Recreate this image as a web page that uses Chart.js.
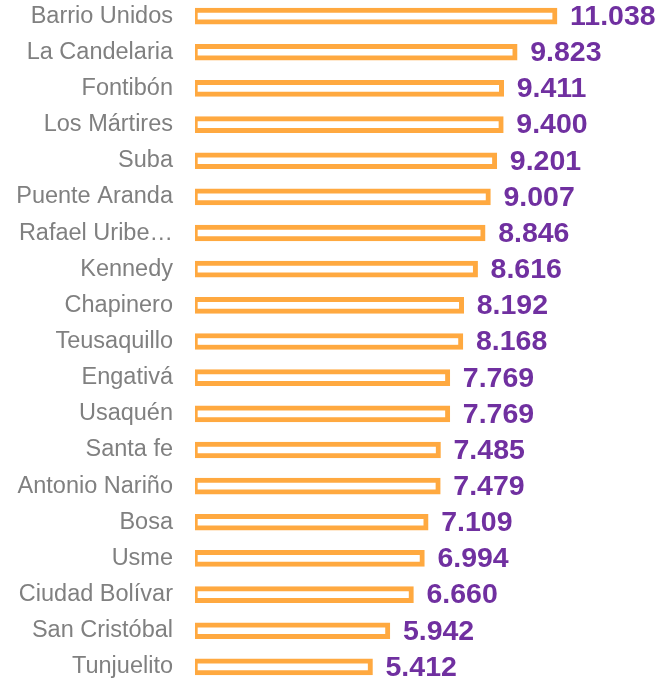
<!DOCTYPE html>
<html>
<head>
<meta charset="utf-8">
<script src="https://cdn.jsdelivr.net/npm/chart.js@4/dist/chart.umd.min.js"></script>
<style>
  html, body { margin: 0; padding: 0; background: #fff; overflow: hidden; }
  #chart { position: absolute; left: 0; top: -2px; }
</style>
</head>
<body>
<canvas id="chart" width="660" height="687"></canvas>
<script>
// Localidades y valores
const localidades = [
    'Barrio Unidos', 'La Candelaria', 'Fontibón', 'Los Mártires', 'Suba',
    'Puente Aranda', 'Rafael Uribe…', 'Kennedy', 'Chapinero', 'Teusaquillo',
    'Engativá', 'Usaquén', 'Santa fe', 'Antonio Nariño', 'Bosa',
    'Usme', 'Ciudad Bolívar', 'San Cristóbal', 'Tunjuelito'
];
const valores = [
    11038, 9823, 9411, 9400, 9201,
    9007, 8846, 8616, 8192, 8168,
    7769, 7769, 7485, 7479, 7109,
    6994, 6660, 5942, 5412
];

const naranja = '#FFA940';
const morado = '#7030A0';
const gris = '#808080';

// Etiquetas de valor a la derecha de cada barra
const valueLabels = {
    id: 'valueLabels',
    afterDatasetsDraw(chart) {
        const ctx = chart.ctx;
        const meta = chart.getDatasetMeta(0);
        ctx.save();
        ctx.font = 'bold 28.5px "Liberation Sans", Arial, sans-serif';
        ctx.fillStyle = morado;
        ctx.textAlign = 'left';
        ctx.textBaseline = 'middle';
        meta.data.forEach((bar, i) => {
            ctx.fillText(valores[i].toLocaleString('de-DE'), bar.x + 13, bar.y + 1);
        });
        ctx.restore();
    }
};

const ctx = document.getElementById('chart').getContext('2d');
new Chart(ctx, {
    type: 'bar',
    data: {
        labels: localidades,
        datasets: [{
            data: valores,
            backgroundColor: '#ffffff',
            borderColor: naranja,
            borderWidth: { top: 5, right: 5, bottom: 5, left: 3 },
            borderSkipped: false,
            barThickness: 16
        }]
    },
    options: {
        indexAxis: 'y',
        responsive: false,
        animation: false,
        layout: { autoPadding: false, padding: { left: 0, right: 71.4, top: 0, bottom: 0 } },
        scales: {
            x: {
                display: false,
                min: 0,
                max: 12000
            },
            y: {
                grid: { display: false, drawTicks: false },
                border: { display: false },
                ticks: {
                    color: gris,
                    padding: 22,
                    font: { family: '"Liberation Sans", Arial, sans-serif', size: 23.5 }
                },
                afterFit(scale) {
                    scale.width = 195;
                    scale.paddingTop = 0;
                    scale.paddingBottom = 0;
                }
            }
        },
        plugins: {
            legend: { display: false },
            tooltip: { enabled: false }
        }
    },
    plugins: [valueLabels]
});
</script>
</body>
</html>
